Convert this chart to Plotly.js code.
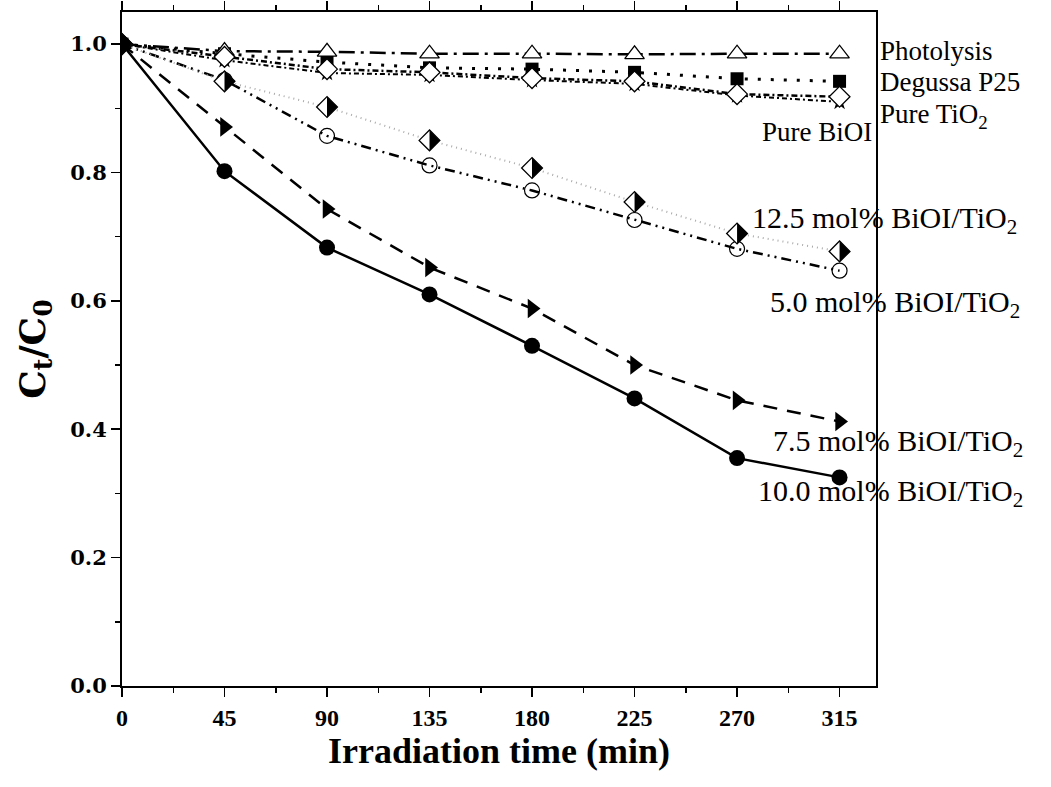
<!DOCTYPE html>
<html>
<head>
<meta charset="utf-8">
<script src="https://cdn.plot.ly/plotly-3.0.1.min.js"></script>
<style>html,body{margin:0;padding:0;background:#fff;}#chart{width:1051px;height:787px;}</style>
</head>
<body>
<div id="chart"></div>
<script>
// Irradiation time (min)
var time = [0, 45, 90, 135, 180, 225, 270, 315];

// Ct/C0 values per sample
var photolysis = [1.0, 0.989, 0.988, 0.985, 0.985, 0.984, 0.985, 0.985];
var degussaP25 = [1.0, 0.985, 0.972, 0.963, 0.961, 0.956, 0.946, 0.942];
var pureTiO2   = [1.0, 0.980, 0.961, 0.956, 0.947, 0.942, 0.922, 0.918];
var pureBiOI   = [1.0, 0.975, 0.955, 0.952, 0.944, 0.938, 0.920, 0.910];
var mol12_5    = [1.0, 0.942, 0.902, 0.850, 0.807, 0.754, 0.705, 0.677];
var mol5_0     = [1.0, 0.944, 0.857, 0.811, 0.772, 0.726, 0.681, 0.647];
var mol7_5     = [1.0, 0.871, 0.743, 0.652, 0.588, 0.500, 0.445, 0.412];
var mol10_0    = [1.0, 0.802, 0.683, 0.610, 0.530, 0.448, 0.355, 0.325];

// Labels
var labels = {
  photolysis: 'Photolysis',
  degussa: 'Degussa P25',
  tio2: 'Pure TiO<sub>2</sub>',
  bioi: 'Pure BiOI',
  m12: '12.5 mol% BiOI/TiO<sub>2</sub>',
  m5: '5.0 mol% BiOI/TiO<sub>2</sub>',
  m75: '7.5 mol% BiOI/TiO<sub>2</sub>',
  m10: '10.0 mol% BiOI/TiO<sub>2</sub>'
};
var xTickVals = [0, 45, 90, 135, 180, 225, 270, 315];
var yTickVals = [0.0, 0.2, 0.4, 0.6, 0.8, 1.0];

function tr(y, name, lineStyle, marker) {
  return {x: time, y: y, name: name, type: 'scatter', mode: 'lines+markers',
    line: lineStyle, marker: marker, showlegend: false, cliponaxis: true};
}

var traces = [
  tr(pureBiOI, 'Pure BiOI', {color: '#000', width: 2, dash: '5px,3px,2px,3px'},
     {symbol: 'star', size: 13, color: '#000'}),
  tr(degussaP25, 'Degussa P25', {color: '#000', width: 3, dash: '3px,10px'},
     {symbol: 'square', size: 13, color: '#000'}),
  tr(photolysis, 'Photolysis', {color: '#000', width: 2.5, dash: '16px,6px,3px,6px'},
     {symbol: 'triangle-up', size: 17, color: '#fff', line: {color: '#000', width: 1.3}}),
  tr(pureTiO2, 'Pure TiO2', {color: '#000', width: 2.5, dash: '6px,3px,2px,3px'},
     {symbol: 'diamond', size: 16, color: '#fff', line: {color: '#000', width: 1.3}}),
  tr(mol5_0, '5.0 mol%', {color: '#000', width: 2.5, dash: '10px,5px,2px,5px,2px,5px'},
     {symbol: 'circle-open', size: 15, color: '#000', line: {color: '#000', width: 1.2}}),
  tr(mol12_5, '12.5 mol%', {color: '#aaa', width: 2, dash: '1px,4px'},
     {symbol: 'diamond', size: 16, color: '#fff', line: {color: '#000', width: 1.3}}),
  tr(mol7_5, '7.5 mol%', {color: '#000', width: 2.5, dash: '14px,10px'},
     {symbol: 'triangle-right', size: 17, color: '#000'}),
  tr(mol10_0, '10.0 mol%', {color: '#000', width: 2.5},
     {symbol: 'circle', size: 16, color: '#000'})
];

// right half fill of the half-filled diamonds (pixel sized, anchored at data points)
var rd = 10.4;
var halfShapes = time.map(function (t, i) {
  return {type: 'path', xref: 'x', yref: 'y', xsizemode: 'pixel', ysizemode: 'pixel',
    xanchor: t, yanchor: mol12_5[i], layer: 'above',
    path: 'M0,-' + rd + ' L' + rd + ',0 L0,' + rd + ' Z',
    fillcolor: '#000', line: {width: 0}};
});

var L = 122, R = 876, T = 12, B = 686;
function px(x) { return (x - L) / (R - L); }
function py(y) { return (B - y) / (B - T); }
var sideFont = {family: 'Liberation Serif, serif', size: 27, color: '#000'};
var labelFont = {family: 'Liberation Serif, serif', size: 30, color: '#000'};
function ann(text, x, y, xanchor, font) {
  return {text: text, xref: 'paper', yref: 'paper', x: px(x), y: py(y),
    xanchor: xanchor, yanchor: 'middle', showarrow: false, font: font};
}
var annotations = [
  ann(labels.photolysis, 878, 51, 'left', sideFont),
  ann(labels.degussa, 878, 82, 'left', sideFont),
  ann(labels.tio2, 878, 116, 'left', sideFont),
  ann(labels.bioi, 874, 132, 'right', sideFont),
  ann(labels.m12, 750, 220, 'left', labelFont),
  ann(labels.m5, 768, 304, 'left', labelFont),
  ann(labels.m75, 771, 443, 'left', labelFont),
  ann(labels.m10, 756, 493, 'left', labelFont)
];

var layout = {
  width: 1051, height: 787,
  margin: {l: L, r: 1051 - R, t: T, b: 787 - B, pad: 0},
  paper_bgcolor: '#fff', plot_bgcolor: '#fff',
  showlegend: false,
  xaxis: {
    range: [0, 331], tickvals: xTickVals, ticktext: xTickVals.map(String),
    ticks: 'outside', ticklen: 9, tickwidth: 1.5, tickcolor: '#000',
    minor: {dtick: 22.5, tick0: 0, ticks: 'outside', ticklen: 5, tickwidth: 1.5, tickcolor: '#000'},
    showline: true, linecolor: '#000', linewidth: 2, mirror: 'allticks',
    showgrid: false, zeroline: false,
    tickfont: {family: 'Liberation Serif, serif', size: 24, weight: 'bold', color: '#000'},
    title: {text: 'Irradiation time (min)', standoff: 4,
      font: {family: 'Liberation Serif, serif', size: 36, weight: 'bold', color: '#000'}}
  },
  yaxis: {
    range: [0, 1.05], tickvals: yTickVals, ticktext: yTickVals.map(function (v) { return v.toFixed(1); }),
    ticks: 'outside', ticklen: 9, tickwidth: 1.5, tickcolor: '#000',
    minor: {dtick: 0.1, tick0: 0, ticks: 'outside', ticklen: 5, tickwidth: 1.5, tickcolor: '#000'},
    showline: true, linecolor: '#000', linewidth: 2, mirror: true,
    showgrid: false, zeroline: false,
    tickfont: {family: 'DejaVu Serif, serif', size: 21, weight: 'bold', color: '#000'},
    title: {text: 'C<sub>t</sub>/C<sub>0</sub>', standoff: 14,
      font: {family: 'DejaVu Serif, serif', size: 36, weight: 'bold', color: '#000'}}
  },
  shapes: halfShapes,
  annotations: annotations
};

Plotly.newPlot('chart', traces, layout, {staticPlot: true, displayModeBar: false});
</script>
</body>
</html>
